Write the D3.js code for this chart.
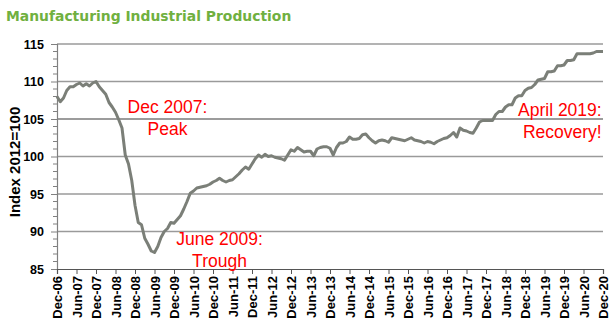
<!DOCTYPE html>
<html><head><meta charset="utf-8">
<script src="https://cdn.jsdelivr.net/npm/d3@7"></script>
<style>
html,body{margin:0;padding:0;background:#fff;}
svg{display:block;}
</style></head>
<body>
<svg id="chart" width="611" height="326"></svg>
<script>
const title = "Manufacturing Industrial Production";
const yTitle = "Index 2012=100";
const tickLabels = ["Dec-06","Jun-07","Dec-07","Jun-08","Dec-08","Jun-09","Dec-09","Jun-10","Dec-10","Jun-11","Dec-11","Jun-12","Dec-12","Jun-13","Dec-13","Jun-14","Dec-14","Jun-15","Dec-15","Jun-16","Dec-16","Jun-17","Dec-17","Jun-18","Dec-18","Jun-19","Dec-19","Jun-20","Dec-20"];
const yTicks = [85,90,95,100,105,110,115];
// monthly index values, Dec 2006 .. Dec 2020
const values = [
108.0,107.3,107.8,108.8,109.3,109.3,109.6,109.8,109.4,109.7,109.4,109.8,
110.0,109.3,108.8,108.3,107.2,106.6,105.9,104.9,103.8,100.2,99.0,96.8,
93.5,91.2,90.9,89.1,88.3,87.4,87.2,88.0,89.2,90.0,90.4,91.2,
91.1,91.6,92.1,93.0,94.0,95.1,95.4,95.8,95.9,96.0,96.1,96.3,
96.6,96.8,97.1,96.8,96.6,96.8,96.9,97.3,97.7,98.2,98.6,98.3,
99.0,99.7,100.2,99.9,100.3,100.0,100.1,99.9,99.8,99.7,99.5,100.2,
100.9,100.7,101.2,100.9,100.6,100.7,100.7,100.1,101.0,101.2,101.3,101.3,
101.1,100.2,101.2,101.8,101.8,102.0,102.6,102.3,102.3,102.4,102.9,103.0,
102.5,102.1,101.8,102.1,102.2,102.1,101.9,102.5,102.4,102.3,102.2,102.1,
102.3,102.5,102.2,102.1,102.0,101.8,102.0,101.9,101.7,102.0,102.2,102.4,
102.5,102.8,103.2,102.6,103.8,103.5,103.4,103.2,103.1,103.8,104.6,104.8,
104.8,104.8,104.8,105.6,106.0,106.0,106.6,106.9,106.9,107.8,108.1,108.1,
108.8,109.1,109.2,109.6,110.2,110.3,110.4,111.3,111.3,111.4,112.1,112.1,
112.2,112.8,112.8,112.9,113.7,113.7,113.7,113.7,113.7,113.8,114.0,114.0,
114.0
];
const annotations = [
  {lines:["Dec 2007:","Peak"], month:34, value:105.8, anchor:"middle"},
  {lines:["June 2009:","Trough"], month:50, value:88.2, anchor:"middle"},
  {lines:["April 2019:","Recovery!"], month:167.6, value:105.45, anchor:"end"}
];

const svg = d3.select("#chart");
const W = 611, H = 326;
const margin = {left:57, right:8, top:44, bottom:57};
const x = d3.scaleLinear().domain([0, values.length-1]).range([margin.left, W-margin.right]);
const y = d3.scaleLinear().domain([85,115]).range([H-margin.bottom, margin.top]);

// title
svg.append("text").attr("x",6).attr("y",21)
  .attr("font-family","DejaVu Sans, Verdana, sans-serif").attr("font-weight","bold")
  .attr("font-size",13.9).attr("fill","#70b040").text(title);

// gridlines
svg.append("g").selectAll("line").data(yTicks.filter(d=>d>85)).join("line")
  .attr("x1",x.range()[0]).attr("x2",x.range()[1])
  .attr("y1",d=>y(d)).attr("y2",d=>y(d))
  .attr("stroke",d=>d===105?"#3a3a3a":"#9a9a9a")
  .attr("stroke-width",d=>d===105?1.2:1.6);

// y axis
const yAxis = d3.axisLeft(y).tickValues(yTicks).tickSize(6).tickPadding(7).tickFormat(d3.format("d"));
const gy = svg.append("g").attr("transform",`translate(${margin.left},0)`).call(yAxis);
gy.select(".domain").attr("stroke","#808080").attr("stroke-width",1.2);
gy.selectAll(".tick line").attr("stroke","#808080");
gy.selectAll("text").attr("font-family","Liberation Sans, Arial, sans-serif").attr("font-weight","bold").attr("font-size",12.5).attr("fill","#000");
// minor ticks
const minor = d3.range(85,116).filter(d=>d%5!==0);
svg.append("g").selectAll("line").data(minor).join("line")
  .attr("x1",margin.left-4).attr("x2",margin.left)
  .attr("y1",d=>y(d)).attr("y2",d=>y(d)).attr("stroke","#808080").attr("stroke-width",1);

// x axis
const tickVals = tickLabels.map((d,i)=>i*6);
const xAxis = d3.axisBottom(x).tickValues(tickVals).tickSize(5).tickFormat((d,i)=>tickLabels[i]);
const gx = svg.append("g").attr("transform",`translate(0,${y(85)})`).call(xAxis);
gx.select(".domain").attr("stroke","#555").attr("stroke-width",1.2);
gx.selectAll(".tick line").attr("stroke","#555");
gx.selectAll("text")
  .attr("font-family","Liberation Sans, Arial, sans-serif").attr("font-weight","bold").attr("font-size",13).attr("fill","#000")
  .attr("transform","rotate(-90)").attr("text-anchor","end")
  .attr("x",-7).attr("y",0).attr("dy","0.36em");

// y title
svg.append("text").attr("transform","translate(20,162) rotate(-90)")
  .attr("text-anchor","middle").attr("font-family","Liberation Sans, Arial, sans-serif")
  .attr("font-weight","bold").attr("font-size",15).attr("fill","#000").text(yTitle);

// line
const line = d3.line().x((d,i)=>x(i)).y(d=>y(d));
svg.append("path").datum(values).attr("d",line).attr("fill","none")
  .attr("stroke","#7b7f78").attr("stroke-width",3).attr("stroke-linejoin","round");

// annotations
annotations.forEach(a=>{
  const t = svg.append("text").attr("font-family","Liberation Sans, Arial, sans-serif")
    .attr("font-size",17.5).attr("fill","#ff0000").attr("text-anchor",a.anchor);
  a.lines.forEach((l,i)=>{
    t.append("tspan").attr("x",x(a.month)).attr("y",y(a.value)+i*22).text(l);
  });
});
</script>
</body></html>
